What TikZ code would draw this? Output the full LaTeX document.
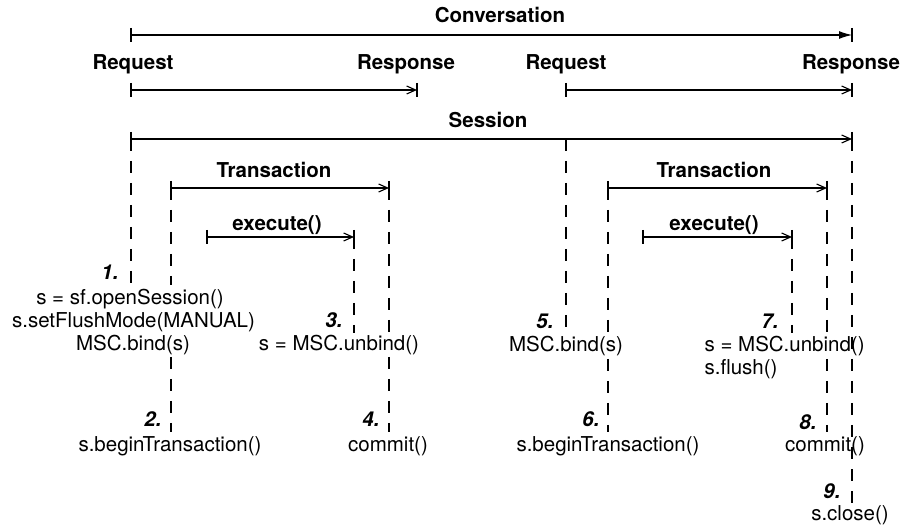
\documentclass[tikz,border=0pt]{standalone}
\usepackage{fontspec}
\setmainfont{TeX Gyre Heros}
\usetikzlibrary{arrows.meta}
\newcommand\tickmark[1]{\draw[line width=1.1pt] (#1) ++(0,-7) -- ++(0,14);}
\begin{document}
\begin{tikzpicture}[x=1pt,y=-1pt,line width=1.1pt,
  every node/.style={inner sep=0pt,font=\fontsize{20.5}{24}\selectfont},
  bt/.style={anchor=base,font=\fontsize{20.5}{24}\selectfont\bfseries},
  tx/.style={anchor=base},
  num/.style={anchor=base east,font=\fontsize{20.5}{24}\selectfont\bfseries\itshape},
  spanarrow/.style={-{Straight Barb[length=9pt,width=8pt,line width=1.1pt]}},
  bigarrow/.style={-{Latex[length=13pt,width=8pt]}},
  dl/.style={dash pattern=on 12pt off 10pt}]
\useasboundingbox (0,0) rectangle (903,529);
% endpoints
\coordinate (cvA) at (131,35);  \coordinate (cvB) at (852,35);
\coordinate (rq1A) at (131,90); \coordinate (rq1B) at (417,90);
\coordinate (rq2A) at (566,90); \coordinate (rq2B) at (852,90);
\coordinate (ssA) at (131,139); \coordinate (ssB) at (852,139);
\coordinate (tr1A) at (171,188); \coordinate (tr1B) at (389,188);
\coordinate (ex1A) at (207,237); \coordinate (ex1B) at (354,237);
\coordinate (tr2A) at (608,188); \coordinate (tr2B) at (827,188);
\coordinate (ex2A) at (643,237); \coordinate (ex2B) at (792,237);
\coordinate (ssM) at (566,139);
% labels
\node[bt] (conv) at (500,23) {Conversation};
\node[bt] (req1) at (133,69.5) {Request};
\node[bt] (res1) at (406,69.5) {Response};
\node[bt] (req2) at (566,69.5) {Request};
\node[bt] (res2) at (851,69.5) {Response};
\node[bt] (sess) at (488,128) {Session};
\node[bt] (tra1) at (274,177.5) {Transaction};
\node[bt] (exe1) at (277,230.5) {execute()};
\node[bt] (tra2) at (714,177.5) {Transaction};
\node[bt] (exe2) at (714,230.5) {execute()};
% spans
\draw[bigarrow] (cvA) -- (cvB); \tickmark{cvA} \tickmark{cvB}
\draw[spanarrow] (rq1A) -- (rq1B); \tickmark{rq1A} \tickmark{rq1B}
\draw[spanarrow] (rq2A) -- (rq2B); \tickmark{rq2A} \tickmark{rq2B}
\draw[spanarrow] (ssA) -- (ssB); \tickmark{ssA} \tickmark{ssB}
\draw[spanarrow] (tr1A) -- (tr1B); \tickmark{tr1A} \tickmark{tr1B}
\draw[spanarrow] (ex1A) -- (ex1B); \tickmark{ex1A} \tickmark{ex1B}
\draw[spanarrow] (tr2A) -- (tr2B); \tickmark{tr2A} \tickmark{tr2B}
\draw[spanarrow] (ex2A) -- (ex2B); \tickmark{ex2A} \tickmark{ex2B}
% dashed life lines
\coordinate (d1) at (131,285);
\coordinate (d2a) at (171,285); \coordinate (d2b) at (171,357); \coordinate (d2c) at (171,432);
\coordinate (d3) at (354,333);
\coordinate (d4a) at (389,333); \coordinate (d4b) at (389,357); \coordinate (d4c) at (389,432);
\coordinate (d5) at (566,333);
\coordinate (d6a) at (608,333); \coordinate (d6b) at (608,359); \coordinate (d6c) at (608,432);
\coordinate (d7) at (792,333);
\coordinate (d8a) at (827,333); \coordinate (d8b) at (827,359); \coordinate (d8c) at (827,432);
\coordinate (d9) at (852,505);
\draw[dl] (ssA) -- (d1);
\draw[dl] (tr1A) -- (d2a); \draw[dl] (d2b) -- (d2c);
\draw[dl] (ex1B) -- (d3);
\draw[dl] (tr1B) -- (d4a); \draw[dl] (d4b) -- (d4c);
\draw[dl] (ssM) -- (d5);
\draw[dl] (tr2A) -- (d6a); \draw[dl] (d6b) -- (d6c);
\draw[dl] (ex2B) -- (d7);
\draw[dl] (tr2B) -- (d8a); \draw[dl] (d8b) -- (d8c);
\draw[dl] (ssB) -- (d9);
% step texts
\node[num] (n1) at (119,280) {1.};
\node[tx] (t1a) at (130,305) {s = sf.openSession()};
\node[tx] (t1b) at (133.5,328) {s.setFlushMode(MANUAL)};
\node[tx] (t1c) at (133,351) {MSC.bind(s)};
\node[num] (n2) at (162,427) {2.};
\node[tx] (t2) at (170,451) {s.beginTransaction()};
\node[num] (n3) at (343,328) {3.};
\node[tx] (t3) at (339,351) {s = MSC.unbind()};
\node[num] (n4) at (380,427) {4.};
\node[tx] (t4) at (388,451) {commit()};
\node[num] (n5) at (554,329) {5.};
\node[tx] (t5) at (566,352) {MSC.bind(s)};
\node[num] (n6) at (600,427) {6.};
\node[tx] (t6) at (608,451) {s.beginTransaction()};
\node[num] (n7) at (779,329) {7.};
\node[anchor=base west] (t7a) at (704,352) {s = MSC.unbind()};
\node[anchor=base west] (t7b) at (704,375) {s.flush()};
\node[num] (n8) at (817,429) {8.};
\node[tx] (t8) at (825,451) {commit()};
\node[num] (n9) at (841,498) {9.};
\node[tx] (t9) at (850,520) {s.close()};
\end{tikzpicture}
\end{document}
